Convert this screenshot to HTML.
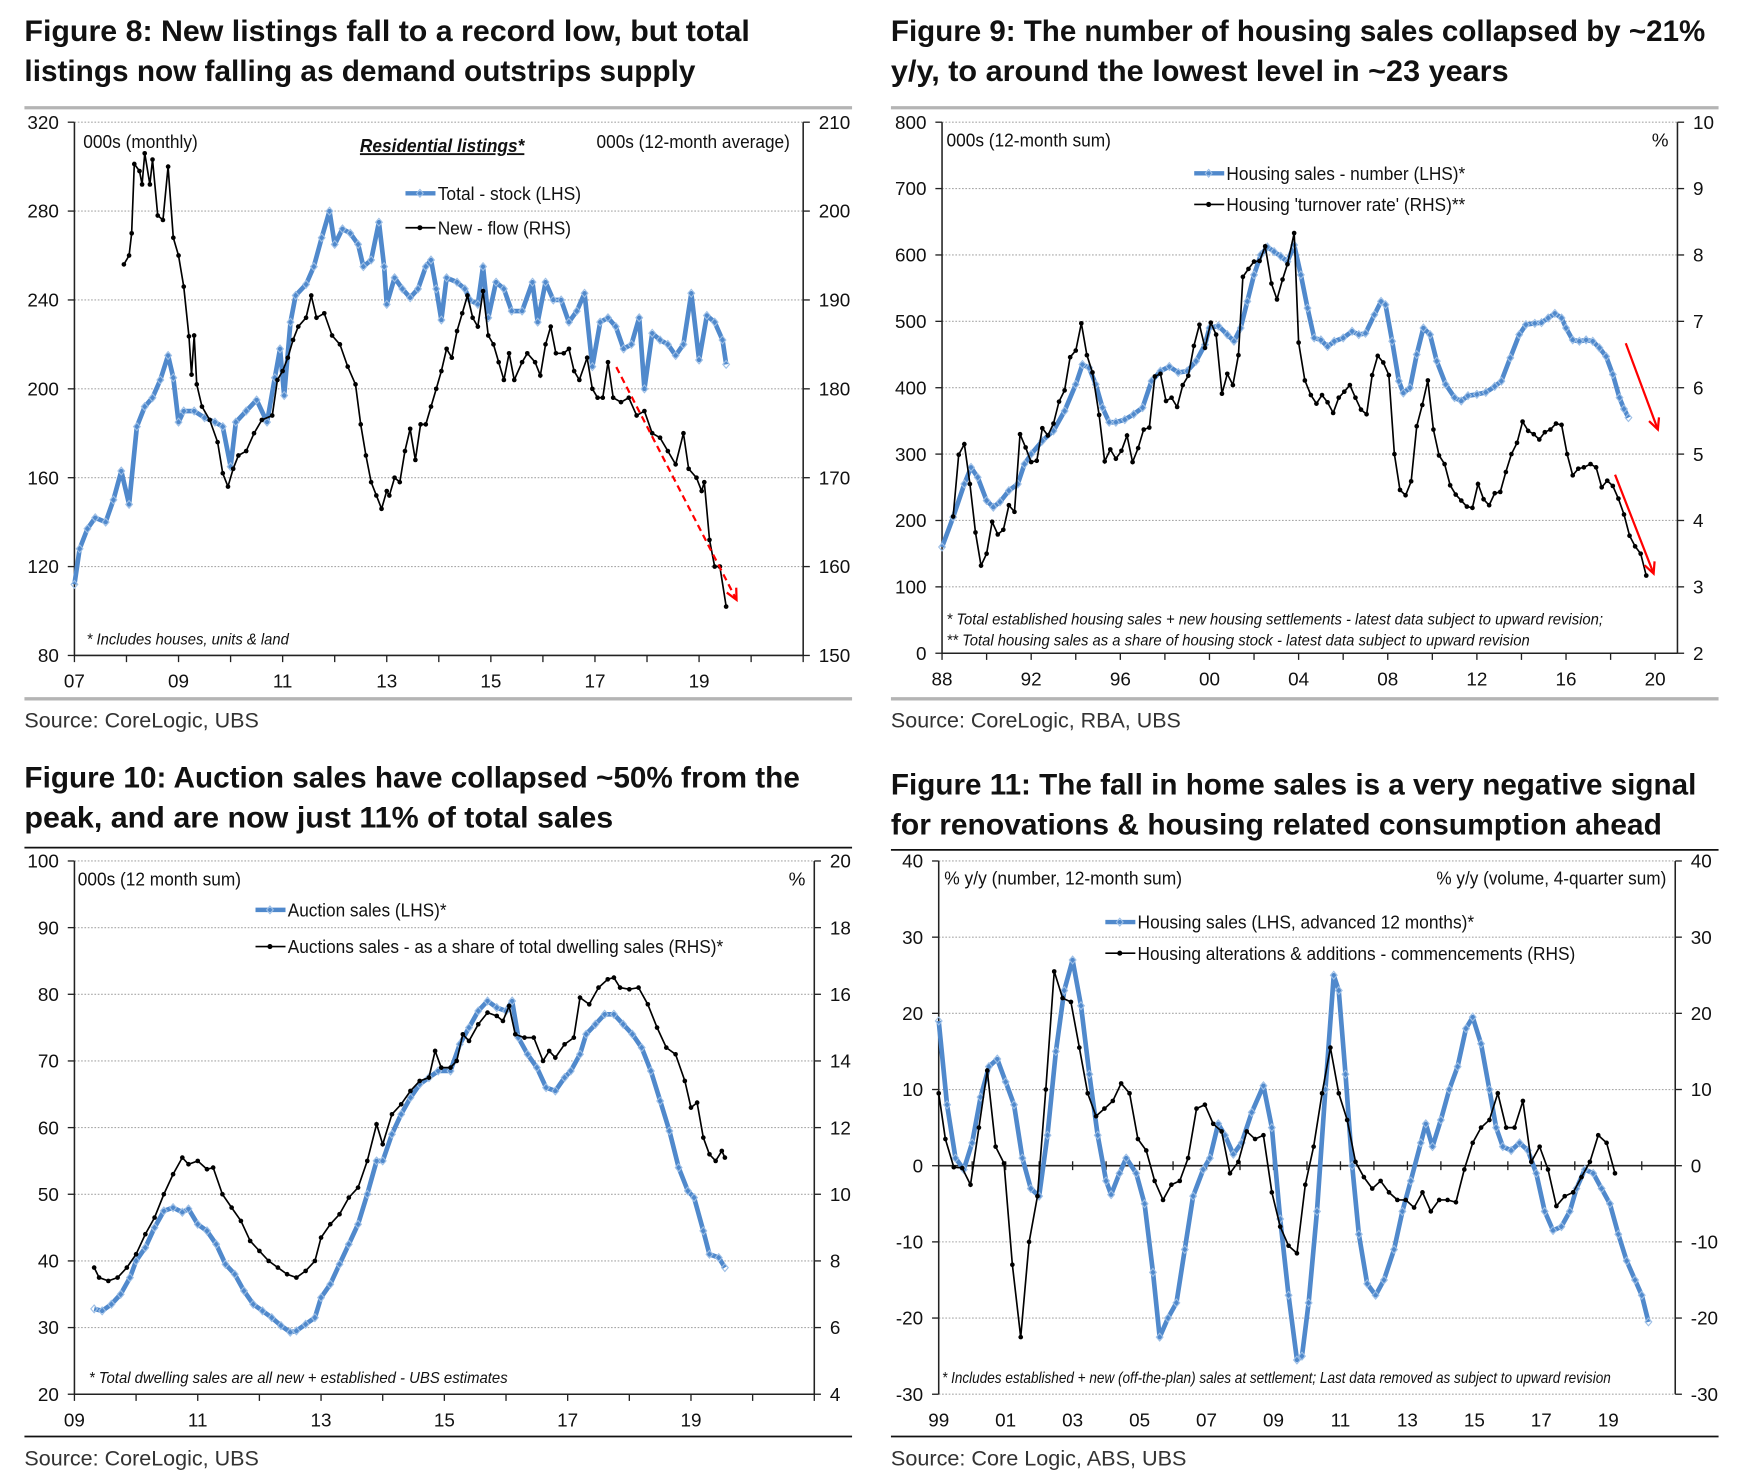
<!DOCTYPE html>
<html><head><meta charset="utf-8"><title>Housing charts</title>
<style>
html,body{margin:0;padding:0;background:#fff;}
svg{display:block;font-family:"Liberation Sans",Arial,sans-serif;}
</style></head>
<body>
<svg id="chart" width="1743" height="1482" viewBox="0 0 1569 1334" preserveAspectRatio="none" xmlns="http://www.w3.org/2000/svg"></svg>
<script>
// ---------- Figure 8 data ----------
const f8TotalYears=[2007.0,2007.1,2007.25,2007.4,2007.6,2007.75,2007.9,2008.05,2008.2,2008.35,2008.5,2008.65,2008.8,2008.9,2009.0,2009.1,2009.3,2009.5,2009.7,2009.85,2010.0,2010.1,2010.3,2010.5,2010.7,2010.85,2010.95,2011.03,2011.15,2011.25,2011.45,2011.6,2011.75,2011.9,2012.0,2012.15,2012.3,2012.45,2012.55,2012.7,2012.85,2012.95,2013.0,2013.15,2013.3,2013.45,2013.6,2013.75,2013.85,2013.95,2014.05,2014.15,2014.35,2014.5,2014.6,2014.75,2014.85,2014.95,2015.1,2015.25,2015.4,2015.6,2015.8,2015.9,2016.05,2016.2,2016.35,2016.5,2016.65,2016.8,2016.95,2017.1,2017.25,2017.4,2017.55,2017.7,2017.85,2017.95,2018.1,2018.25,2018.4,2018.55,2018.7,2018.85,2019.0,2019.15,2019.3,2019.45,2019.52];
const f8Total=[112,128,137,142,140,150,163,148,183,192,196,204,215,205,185,190,190,187,185,183,165,185,190,195,185,205,218,197,230,242,247,255,268,280,265,272,270,265,255,258,275,255,238,250,245,241,245,255,258,245,231,250,248,245,240,238,255,232,248,245,235,235,248,230,248,240,240,230,235,243,210,230,232,228,218,220,232,200,225,222,220,215,220,243,213,233,230,222,211];
const f8NewYears=[2007.95,2008.05,2008.1,2008.15,2008.25,2008.3,2008.35,2008.45,2008.5,2008.6,2008.7,2008.8,2008.9,2009.0,2009.1,2009.2,2009.25,2009.3,2009.35,2009.45,2009.6,2009.75,2009.85,2009.95,2010.05,2010.15,2010.3,2010.45,2010.6,2010.8,2010.9,2011.0,2011.1,2011.2,2011.3,2011.45,2011.55,2011.65,2011.8,2011.95,2012.1,2012.25,2012.4,2012.5,2012.6,2012.7,2012.8,2012.9,2013.0,2013.05,2013.15,2013.25,2013.35,2013.45,2013.55,2013.65,2013.75,2013.85,2013.95,2014.05,2014.15,2014.25,2014.35,2014.45,2014.55,2014.65,2014.75,2014.85,2014.95,2015.05,2015.15,2015.25,2015.35,2015.45,2015.6,2015.7,2015.85,2015.95,2016.05,2016.15,2016.25,2016.4,2016.5,2016.6,2016.7,2016.85,2016.95,2017.05,2017.15,2017.25,2017.35,2017.5,2017.65,2017.8,2017.95,2018.1,2018.25,2018.4,2018.55,2018.7,2018.8,2018.95,2019.05,2019.1,2019.2,2019.3,2019.4,2019.52];
const f8New=[194,195,197.5,205.3,204.5,203,206.5,203,205.8,199.5,199,205,197,195,191.5,185.9,181.6,186,180.5,178,176.5,174,170.5,169,171,172.5,173,175,176.5,177,181,182,183.5,185.5,187,188,190.5,188,188.5,186,185,182.5,180.5,176,172.5,169.5,168,166.5,168.5,168,170,169.5,173,175.5,172,176,176,178,180,182,184.5,183.5,186.5,188.5,190.5,188,187,191,186,185,183,181,184,181,183,184,183,181.5,185,187,184,184,184.5,182,181,183.5,180,179,179,183,179,178.5,179,177,177.5,175,174.5,173,171.5,175,171,170,168.5,169.5,163,160,160,155.5];
const f8LeftTicks=[80,120,160,200,240,280,320];
const f8RightTicks=[150,160,170,180,190,200,210];
const f8XLabels=['07','09','11','13','15','17','19'];
const f8XLabelYears=[2007,2009,2011,2013,2015,2017,2019];
const f8Arrow=[[2017.41,209.8],[2019.72,105]];

// ---------- Figure 9 data ----------
const f9SalesYears=[1988.0,1988.5,1989.0,1989.3,1989.6,1990.0,1990.3,1990.6,1991.0,1991.4,1991.7,1992.0,1992.5,1993.0,1993.5,1994.0,1994.3,1994.6,1994.9,1995.2,1995.5,1995.8,1996.2,1996.6,1997.0,1997.4,1997.8,1998.2,1998.6,1999.0,1999.4,1999.8,2000.0,2000.4,2000.8,2001.1,2001.4,2001.7,2002.0,2002.3,2002.6,2002.9,2003.2,2003.5,2003.8,2004.1,2004.4,2004.7,2005.0,2005.3,2005.6,2006.0,2006.4,2006.7,2007.0,2007.4,2007.7,2007.9,2008.2,2008.5,2008.7,2009.0,2009.3,2009.6,2009.9,2010.2,2010.6,2011.0,2011.3,2011.6,2012.0,2012.4,2012.8,2013.1,2013.5,2013.9,2014.2,2014.6,2014.9,2015.2,2015.5,2015.8,2016.0,2016.3,2016.6,2016.9,2017.2,2017.5,2017.8,2018.1,2018.4,2018.6,2018.8];
const f9Sales=[160,205,255,280,265,230,220,228,245,255,285,300,320,335,365,405,435,430,405,370,348,348,352,360,370,410,425,432,423,425,440,465,490,493,480,470,490,530,570,600,612,605,598,590,615,570,520,475,472,462,470,475,485,480,482,510,530,525,470,410,392,400,450,490,480,440,405,385,380,388,390,393,402,410,445,480,495,497,498,505,512,505,490,472,470,472,470,460,447,420,385,368,355];
const f9TurnYears=[1988.5,1988.75,1989.0,1989.25,1989.5,1989.75,1990.0,1990.25,1990.5,1990.75,1991.0,1991.25,1991.5,1991.75,1992.0,1992.25,1992.5,1992.75,1993.0,1993.25,1993.5,1993.75,1994.0,1994.25,1994.5,1994.75,1995.05,1995.3,1995.55,1995.8,1996.05,1996.3,1996.55,1996.8,1997.05,1997.3,1997.55,1997.8,1998.05,1998.3,1998.55,1998.8,1999.05,1999.3,1999.55,1999.8,2000.06,2000.3,2000.56,2000.8,2001.05,2001.3,2001.5,2001.75,2002.0,2002.25,2002.5,2002.78,2003.03,2003.28,2003.5,2003.8,2004.0,2004.28,2004.55,2004.8,2005.05,2005.3,2005.55,2005.8,2006.05,2006.3,2006.55,2006.8,2007.05,2007.3,2007.55,2007.8,2008.05,2008.3,2008.55,2008.8,2009.05,2009.3,2009.55,2009.8,2010.05,2010.3,2010.55,2010.8,2011.05,2011.3,2011.55,2011.8,2012.05,2012.3,2012.55,2012.8,2013.05,2013.3,2013.55,2013.8,2014.05,2014.3,2014.55,2014.8,2015.05,2015.3,2015.55,2015.8,2016.05,2016.3,2016.55,2016.8,2017.1,2017.35,2017.6,2017.85,2018.1,2018.35,2018.6,2018.85,2019.1,2019.35,2019.6];
const f9Turn=[4.06,4.99,5.15,4.55,3.82,3.32,3.5,3.98,3.79,3.86,4.23,4.13,5.3,5.1,4.88,4.9,5.39,5.28,5.46,5.79,5.96,6.46,6.56,6.97,6.49,6.23,5.59,4.89,5.07,4.93,5.05,5.28,4.88,5.09,5.37,5.4,6.17,6.21,5.8,5.85,5.71,6.04,6.18,6.63,6.95,6.6,6.98,6.8,5.91,6.21,6.04,6.49,7.67,7.79,7.9,7.91,8.13,7.57,7.33,7.63,7.86,8.33,6.68,6.11,5.89,5.76,5.89,5.78,5.62,5.85,5.94,6.04,5.85,5.67,5.6,6.19,6.48,6.38,6.19,5.0,4.46,4.38,4.59,5.42,5.74,6.11,5.37,4.98,4.85,4.53,4.39,4.3,4.21,4.19,4.55,4.32,4.23,4.41,4.43,4.73,5.0,5.17,5.49,5.35,5.3,5.22,5.33,5.37,5.46,5.44,5.0,4.68,4.78,4.8,4.85,4.8,4.5,4.6,4.52,4.33,4.09,3.77,3.61,3.5,3.17];
const f9LeftTicks=[0,100,200,300,400,500,600,700,800];
const f9RightTicks=[2,3,4,5,6,7,8,9,10];
const f9XLabels=['88','92','96','00','04','08','12','16','20'];
const f9XLabelYears=[1988,1992,1996,2000,2004,2008,2012,2016,2020];
const f9ArrowUpper=[[2018.68,467],[2020.12,337]];
const f9ArrowLower=[[2018.2,269],[2019.93,120]];

// ---------- Figure 10 data ----------
const f10AucYears=[2009.32,2009.45,2009.6,2009.75,2009.9,2010.0,2010.15,2010.3,2010.45,2010.6,2010.75,2010.85,2011.0,2011.15,2011.3,2011.45,2011.6,2011.75,2011.9,2012.05,2012.2,2012.35,2012.5,2012.6,2012.75,2012.9,2013.0,2013.15,2013.3,2013.45,2013.6,2013.75,2013.9,2014.0,2014.15,2014.3,2014.45,2014.6,2014.75,2014.9,2015.1,2015.25,2015.4,2015.55,2015.7,2015.85,2016.0,2016.1,2016.2,2016.35,2016.5,2016.65,2016.8,2016.95,2017.05,2017.2,2017.3,2017.45,2017.6,2017.75,2017.9,2018.05,2018.2,2018.35,2018.5,2018.65,2018.8,2018.95,2019.05,2019.2,2019.3,2019.45,2019.55];
const f10Auc=[32.8,32.5,33.5,35,37.5,40,42,45,47.5,48,47.3,47.8,45.5,44.5,42.5,39.5,38,35.5,33.5,32.5,31.5,30.3,29.3,29.5,30.5,31.5,34.5,36.5,39.5,42.5,45.5,50,55,55,59,62,64.5,66.5,67.5,68.5,68.5,72.5,75,77.5,79,78,77.5,79,73.5,71,69,66,65.5,67.5,68.5,71,74,75.5,77,77,75.5,74,72,68.5,64,59.5,54,50.5,49.5,44.5,41,40.5,39];
const f10ShareYears=[2009.32,2009.4,2009.55,2009.7,2009.85,2010.0,2010.15,2010.3,2010.45,2010.6,2010.75,2010.85,2011.0,2011.15,2011.25,2011.4,2011.55,2011.7,2011.85,2012.0,2012.15,2012.3,2012.45,2012.6,2012.75,2012.9,2013.0,2013.15,2013.3,2013.45,2013.6,2013.75,2013.9,2014.0,2014.15,2014.3,2014.45,2014.6,2014.75,2014.85,2014.95,2015.1,2015.2,2015.3,2015.4,2015.55,2015.7,2015.85,2015.95,2016.05,2016.15,2016.3,2016.45,2016.6,2016.7,2016.8,2016.95,2017.1,2017.2,2017.35,2017.5,2017.65,2017.75,2017.85,2018.0,2018.15,2018.3,2018.45,2018.6,2018.75,2018.9,2019.0,2019.1,2019.2,2019.3,2019.4,2019.5,2019.55];
const f10Share=[7.8,7.5,7.4,7.5,7.8,8.2,8.8,9.3,10.0,10.6,11.1,10.9,11.0,10.75,10.8,10.0,9.6,9.2,8.6,8.3,8.0,7.8,7.6,7.5,7.7,8.0,8.7,9.1,9.4,9.9,10.2,11.0,12.1,11.5,12.4,12.7,13.1,13.4,13.5,14.3,13.8,13.8,14.0,14.8,14.6,15.1,15.45,15.35,15.2,15.65,14.8,14.7,14.7,14.0,14.3,14.1,14.5,14.7,15.9,15.7,16.2,16.45,16.5,16.2,16.15,16.2,15.7,15.0,14.4,14.2,13.4,12.6,12.75,11.7,11.2,11.0,11.3,11.1];
const f10LeftTicks=[20,30,40,50,60,70,80,90,100];
const f10RightTicks=[4,6,8,10,12,14,16,18,20];
const f10XLabels=['09','11','13','15','17','19'];
const f10XLabelYears=[2009,2011,2013,2015,2017,2019];

// ---------- Figure 11 data ----------
const f11SalesYears=[1999.0,1999.25,1999.5,1999.75,2000.0,2000.25,2000.5,2000.75,2001.0,2001.25,2001.5,2001.75,2002.0,2002.25,2002.5,2002.75,2003.0,2003.25,2003.5,2003.75,2004.0,2004.15,2004.4,2004.6,2004.9,2005.15,2005.4,2005.6,2005.85,2006.1,2006.35,2006.6,2006.9,2007.1,2007.35,2007.55,2007.8,2008.05,2008.35,2008.7,2008.95,2009.2,2009.45,2009.7,2009.85,2010.05,2010.3,2010.55,2010.8,2010.95,2011.15,2011.35,2011.55,2011.8,2012.05,2012.3,2012.6,2012.85,2013.1,2013.4,2013.55,2013.75,2014.0,2014.25,2014.5,2014.75,2014.95,2015.2,2015.45,2015.65,2015.85,2016.1,2016.35,2016.6,2016.85,2017.1,2017.35,2017.6,2017.85,2018.05,2018.3,2018.55,2018.8,2019.05,2019.3,2019.55,2019.8,2020.0,2020.2];
const f11Sales=[19,8,1,-0.5,3,9,13,14,11,8,1,-3,-4,4,15,23,27,21,12,4,-2,-3.8,-1,1,-1,-5,-14,-22.5,-20,-18,-11,-4,-0.5,1,5.5,4,1.5,3,7,10.5,5,-7,-17,-25.5,-25,-18,-6,10,25,23,12,0,-9,-15.5,-17,-15,-11,-6,-2,3,5.5,2.5,6,10,13,18,19.5,16,10,5,2.5,2,3,2,-1,-6,-8.5,-8,-6,-3,-0.5,-1,-3,-5,-9,-12.5,-15,-17,-20.5];
const f11AltYears=[1999.0,1999.2,1999.45,1999.7,1999.95,2000.2,2000.45,2000.7,2000.95,2001.2,2001.45,2001.7,2001.95,2002.2,2002.45,2002.7,2002.95,2003.2,2003.45,2003.7,2003.95,2004.2,2004.45,2004.7,2004.95,2005.2,2005.45,2005.7,2005.95,2006.2,2006.45,2006.7,2006.95,2007.2,2007.45,2007.7,2007.95,2008.2,2008.45,2008.7,2008.95,2009.2,2009.45,2009.7,2009.95,2010.2,2010.45,2010.7,2010.95,2011.2,2011.45,2011.7,2011.95,2012.2,2012.45,2012.7,2012.95,2013.2,2013.45,2013.7,2013.95,2014.2,2014.45,2014.7,2014.95,2015.2,2015.45,2015.7,2015.95,2016.2,2016.45,2016.7,2016.95,2017.2,2017.45,2017.7,2017.95,2018.2,2018.45,2018.7,2018.95,2019.2];
const f11Alt=[9.5,3.5,-0.2,-0.3,-2.5,5,12.5,2.5,0.3,-13,-22.5,-10,-4,10,25.5,22,21.5,15.5,9.5,6.5,7.5,8.5,10.8,9.5,3.5,2,-2,-4.5,-2.5,-2,1,7.5,8,5.5,4.5,-1,0.5,4.5,3.5,4,-3.5,-8,-10.5,-11.5,-2.5,2.5,9.5,15.5,9.5,6,0.5,-1.5,-3,-2,-3.5,-4.5,-4.5,-5.5,-3.5,-6,-4.5,-4.5,-4.8,-0.5,3,5,6,9.5,5,5,8.5,0.5,2.5,-0.5,-5.3,-4,-3.5,-1.5,0.5,4,3,-1];
const f11LeftTicks=[-30,-20,-10,0,10,20,30,40];
const f11RightTicks=[-30,-20,-10,0,10,20,30,40];
const f11XLabels=['99','01','03','05','07','09','11','13','15','17','19'];
const f11XLabelYears=[1999,2001,2003,2005,2007,2009,2011,2013,2015,2017,2019];

const NS='http://www.w3.org/2000/svg';
const svg=document.getElementById('chart');
const BLUE='#5089cc', BLUE_LT='#9dbfe6';
function mk(tag,attrs,parent){const e=document.createElementNS(NS,tag);for(const k in attrs)e.setAttribute(k,attrs[k]);(parent||svg).appendChild(e);return e;}
function scale(d0,d1,r0,r1){return v=>r0+(v-d0)/(d1-d0)*(r1-r0);}
function tx(str,x,y,opt){const o=Object.assign({'font-size':17,fill:'#111'},opt||{});const a={x:x,y:y,'font-size':o['font-size'],fill:o.fill};
  if(o.anchor)a['text-anchor']=o.anchor; if(o.weight)a['font-weight']=o.weight; if(o.style)a['font-style']=o.style;
  if(o.len){a.textLength=o.len;a.lengthAdjust='spacingAndGlyphs';} if(o.deco)a['text-decoration']=o.deco;
  const t=mk('text',a,o.parent); t.textContent=str; return t;}

function frame(p){
  const g=mk('g',{});
  
  
  const t1=tx(p.title[0],p.x0,p.ty,{'font-size':27,weight:'bold',len:p.tw[0],parent:g});
  
  
  const t2=tx(p.title[1],p.x0,p.ty+36,{'font-size':27,weight:'bold',len:p.tw[1],parent:g});
  
  
  const rc=p.gray?'#b4b4b4':'#111', rw=p.gray?3:1.6;
  const r1=mk('line',{x1:p.x0,x2:p.x0+745,y1:p.rTop,y2:p.rTop,stroke:rc,'stroke-width':rw},g);
  
  
  const r2=mk('line',{x1:p.x0,x2:p.x0+745,y1:p.rBot,y2:p.rBot,stroke:rc,'stroke-width':rw},g);
  
  
  const s=tx(p.source,p.x0,p.rBot+26,{'font-size':19,fill:'#333',len:p.sw,parent:g});
  
  
  return g;
}
function axes(p,g,xs,yl,yr){
  p.lt.forEach(v=>{ if(v===p.lt[0]&&!p.zeroAxis) return;
    const l=mk('line',{x1:p.L,x2:p.R,y1:yl(v),y2:yl(v),stroke:'#a8a8a8','stroke-width':1,'stroke-dasharray':'1.5,1.5'},g);
    
    
  });
  const la=mk('line',{x1:p.L,x2:p.L,y1:p.T,y2:p.B,stroke:'#222','stroke-width':1.4},g);
  
  
  const ra=mk('line',{x1:p.R,x2:p.R,y1:p.T,y2:p.B,stroke:'#222','stroke-width':1.4},g);
  
  
  const baseY=p.zeroAxis?yl(0):p.B;
  const ba=mk('line',{x1:p.L,x2:p.R,y1:baseY,y2:baseY,stroke:'#222','stroke-width':1.4},g);
  
  
  p.lt.forEach(v=>{
    const tk=mk('line',{x1:p.L-6,x2:p.L,y1:yl(v),y2:yl(v),stroke:'#222','stroke-width':1.2},g);
    
    
    const lb=tx(String(v),p.L-14,yl(v)+6,{anchor:'end',parent:g});
    
    
  });
  p.rt.forEach(v=>{
    const tk=mk('line',{x1:p.R,x2:p.R+6,y1:yr(v),y2:yr(v),stroke:'#222','stroke-width':1.2},g);
    
    
    const lb=tx(String(v),p.R+14,yr(v)+6,{parent:g});
    
    
  });
  for(let yv=p.xd[0]; yv<=p.xd[1]; yv+=p.tickStep){
    const tk=mk('line',{x1:xs(yv),x2:xs(yv),y1:baseY-(p.zeroAxis?4:0),y2:baseY+(p.zeroAxis?4:6),stroke:'#222','stroke-width':1.2},g);
    
    
  }
  p.xl.forEach((s,i)=>{
    const lb=tx(s,xs(p.xly[i]),p.B+29,{anchor:'middle',parent:g});
    
    
  });
}
function blueSeries(g,xs,ys,xa,va,name){
  const pts=xa.map((x,i)=>xs(x).toFixed(1)+','+ys(va[i]).toFixed(1)).join(' ');
  const pl=mk('polyline',{points:pts,fill:'none',stroke:BLUE,'stroke-width':4.2,'stroke-linejoin':'round'},g);
  
  
  xa.forEach((x,i)=>{const cx=xs(x),cy=ys(va[i]);
    const d=mk('path',{d:`M${cx},${cy-3.5}L${cx+3},${cy}L${cx},${cy+3.5}L${cx-3},${cy}Z`,fill:'none',stroke:BLUE_LT,'stroke-width':1},g);
    
    
  });
}
function blackSeries(g,xs,ys,xa,va,name){
  const pts=xa.map((x,i)=>xs(x).toFixed(1)+','+ys(va[i]).toFixed(1)).join(' ');
  const pl=mk('polyline',{points:pts,fill:'none',stroke:'#000','stroke-width':1.5},g);
  
  
  xa.forEach((x,i)=>{
    const c=mk('circle',{cx:xs(x),cy:ys(va[i]),r:2.1,fill:'#000'},g);
    
    
  });
}
function legend(g,x,y,label,blue,len){
  const l=mk('line',{x1:x,x2:x+27,y1:y,y2:y,stroke:blue?BLUE:'#000','stroke-width':blue?4:1.5},g);
  
  
  if(blue){const d=mk('path',{d:`M${x+13},${y-3.5}L${x+16},${y}L${x+13},${y+3.5}L${x+10},${y}Z`,fill:'none',stroke:BLUE_LT},g);
    
    }
  else{const c=mk('circle',{cx:x+13,cy:y,r:2.3,fill:'#000'},g);
    
    }
  const t=tx(label,x+29,y+6,{len:len,parent:g});
  
  
}
function arrow(g,xs,ys,pts,dashed,name){
  const x1=xs(pts[0][0]),y1=ys(pts[0][1]),x2=xs(pts[1][0]),y2=ys(pts[1][1]);
  const a=mk('line',{x1:x1,y1:y1,x2:x2,y2:y2,stroke:'#f00','stroke-width':2,'stroke-dasharray':dashed?'6,4':'none'},g);
  
  
  const ang=Math.atan2(y2-y1,x2-x1),h=11;
  const hd=mk('polyline',{points:`${x2-h*Math.cos(ang-0.45)},${y2-h*Math.sin(ang-0.45)} ${x2},${y2} ${x2-h*Math.cos(ang+0.45)},${y2-h*Math.sin(ang+0.45)}`,fill:'none',stroke:'#f00','stroke-width':2},g);
  
  
}
function note(g,str,x,y,len){const t=tx(str,x,y,{'font-size':14,style:'italic',len:len,parent:g});
  
  }
function hdr(g,str,x,y,len,anchor){const t=tx(str,x,y,{len:len,anchor:anchor,parent:g});
  
  }

// ===== Figure 8 =====
(function(){
  const p={name:'figure-8',x0:22,ty:37,title:['Figure 8: New listings fall to a record low, but total','listings now falling as demand outstrips supply'],tw:[653,604],gray:true,rTop:97,rBot:629,source:'Source:  CoreLogic, UBS',sw:211,
    L:67,R:723,T:110,B:590,xd:[2007,2021],tickStep:1,lt:f8LeftTicks,rt:f8RightTicks,xl:f8XLabels,xly:f8XLabelYears};
  const g=frame(p);
  const xs=scale(2007,2021,p.L,p.R), yl=scale(80,320,p.B,p.T), yr=scale(150,210,p.B,p.T);
  axes(p,g,xs,yl,yr);
  hdr(g,'000s (monthly)',75,133,103);
  const rl=tx('Residential listings*',324,137,{weight:'bold',style:'italic',len:148,deco:'underline',parent:g});
  
  
  hdr(g,'000s (12-month average)',711,133,174,'end');
  legend(g,365,174,'Total - stock (LHS)',true,129);
  legend(g,365,205,'New - flow (RHS)',false,120);
  note(g,'* Includes houses, units & land',78,580,182);
  blueSeries(g,xs,yl,f8TotalYears,f8Total,'total-stock-line');
  blackSeries(g,xs,yr,f8NewYears,f8New,'new-flow-line');
  arrow(g,xs,yl,f8Arrow,true,'trend-arrow');
})();

// ===== Figure 9 =====
(function(){
  const p={name:'figure-9',x0:802,ty:37,title:['Figure 9: The number of housing sales collapsed by ~21%','y/y, to around the lowest level in ~23 years'],tw:[733,556],gray:true,rTop:97,rBot:629,source:'Source:  CoreLogic, RBA, UBS',sw:261,
    L:848,R:1510,T:110,B:588,xd:[1988,2020],tickStep:2,lt:f9LeftTicks,rt:f9RightTicks,xl:f9XLabels,xly:f9XLabelYears};
  const g=frame(p);
  const xs=scale(1988,2021,p.L,p.R), yl=scale(0,800,p.B,p.T), yr=scale(2,10,p.B,p.T);
  axes(p,g,xs,yl,yr);
  hdr(g,'000s (12-month sum)',852,132,148);
  hdr(g,'%',1502,132,null,'end');
  legend(g,1075,156,'Housing sales - number (LHS)*',true,215);
  legend(g,1075,184,"Housing 'turnover rate' (RHS)**",false,215);
  note(g,'* Total established housing sales + new housing settlements - latest data subject to upward revision;',852,562,591);
  note(g,'** Total housing sales as a share of housing stock - latest data subject to upward revision',852,581,525);
  blueSeries(g,xs,yl,f9SalesYears,f9Sales,'housing-sales-line');
  blackSeries(g,xs,yr,f9TurnYears,f9Turn,'turnover-rate-line');
  arrow(g,xs,yl,f9ArrowUpper,false,'sales-trend-arrow');
  arrow(g,xs,yl,f9ArrowLower,false,'turnover-trend-arrow');
})();

// ===== Figure 10 =====
(function(){
  const p={name:'figure-10',x0:22,ty:709,title:['Figure 10: Auction sales have collapsed ~50% from the','peak, and are now just 11% of total sales'],tw:[698,530],gray:false,rTop:763,rBot:1293,source:'Source:  CoreLogic, UBS',sw:211,
    L:67,R:733,T:775,B:1255,xd:[2009,2021],tickStep:1,lt:f10LeftTicks,rt:f10RightTicks,xl:f10XLabels,xly:f10XLabelYears};
  const g=frame(p);
  const xs=scale(2009,2021,p.L,p.R), yl=scale(20,100,p.B,p.T), yr=scale(4,20,p.B,p.T);
  axes(p,g,xs,yl,yr);
  hdr(g,'000s (12 month sum)',70,797,147);
  hdr(g,'%',725,797,null,'end');
  legend(g,230,819,'Auction sales (LHS)*',true,143);
  legend(g,230,852,'Auctions sales - as a share of total dwelling sales (RHS)*',false,392);
  note(g,'* Total dwelling sales are all new + established - UBS estimates',80,1245,377);
  blueSeries(g,xs,yl,f10AucYears,f10Auc,'auction-sales-line');
  blackSeries(g,xs,yr,f10ShareYears,f10Share,'auction-share-line');
})();

// ===== Figure 11 =====
(function(){
  const p={name:'figure-11',x0:802,ty:715,title:['Figure 11: The fall in home sales is a very negative signal','for renovations & housing related consumption ahead'],tw:[725,694],gray:false,rTop:765,rBot:1293,source:'Source:  Core Logic, ABS, UBS',sw:266,
    L:845,R:1508,T:775,B:1255,xd:[1999,2021],tickStep:1,lt:f11LeftTicks,rt:f11RightTicks,xl:f11XLabels,xly:f11XLabelYears,zeroAxis:true};
  const g=frame(p);
  const xs=scale(1999,2021,p.L,p.R), yl=scale(-30,40,p.B,p.T), yr=scale(-30,40,p.B,p.T);
  axes(p,g,xs,yl,yr);
  hdr(g,'% y/y (number, 12-month sum)',850,796,214);
  hdr(g,'% y/y (volume, 4-quarter sum)',1500,796,207,'end');
  legend(g,995,830,'Housing sales (LHS, advanced 12 months)*',true,303);
  legend(g,995,858,'Housing alterations & additions - commencements (RHS)',false,394);
  note(g,'* Includes established + new (off-the-plan) sales at settlement; Last data removed as subject to upward revision',848,1245,602);
  blueSeries(g,xs,yl,f11SalesYears,f11Sales,'housing-sales-yy-line');
  blackSeries(g,xs,yr,f11AltYears,f11Alt,'alterations-line');
})();
</script>
</body></html>
